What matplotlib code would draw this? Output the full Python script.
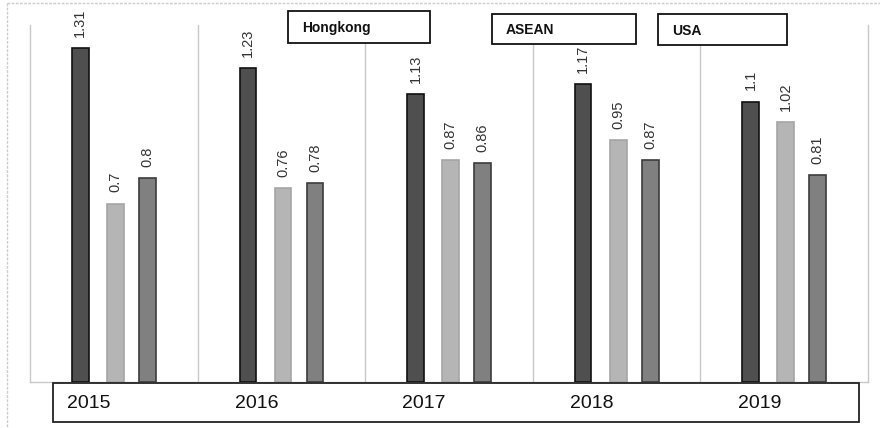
import numpy as np
import matplotlib.pyplot as plt
from matplotlib.patches import Rectangle

years = ['2015', '2016', '2017', '2018', '2019']
series = ['Hongkong', 'ASEAN', 'USA']
hongkong = [1.31, 1.23, 1.13, 1.17, 1.10]
asean = [0.70, 0.76, 0.87, 0.95, 1.02]
usa = [0.80, 0.78, 0.86, 0.87, 0.81]

W, H = 880, 428
fig = plt.figure(figsize=(W / 100, H / 100), dpi=100)
fig.patch.set_facecolor('white')

# main bar axes, placed in pixel terms
left, right, top, base = 30, 868, 25, 382
ax = fig.add_axes([left / W, (H - base) / H, (right - left) / W, (base - top) / H])

x = np.arange(len(years))
width = 0.10
styles = [
    (hongkong, -0.2, '#4f4f4f', '#111111'),
    (asean, 0.01, '#b5b5b5', '#a5a5a5'),
    (usa, 0.2, '#808080', '#3c3c3c'),
]
for vals, off, fc, ec in styles:
    bars = ax.bar(x + off, vals, width, color=fc, edgecolor=ec, linewidth=1.2, zorder=3)
    for b, v in zip(bars, vals):
        ax.annotate(f'{v:g}', (b.get_x() + b.get_width() / 2, v),
                    xytext=(0, 8), textcoords='offset points',
                    rotation=90, ha='center', va='bottom',
                    fontsize=10.5, color='#333333', family='Liberation Sans')

ax.set_xlim(-0.5, len(years) - 0.5)
ax.set_ylim(0, (base - top) / 255)
ax.set_xticks([])
ax.set_yticks([])
for xb in np.arange(0.5, len(years) - 0.5):
    ax.axvline(xb, color='#c8c8c8', lw=1.0, zorder=1)
ax.spines['top'].set_visible(False)
for side in ['left', 'right', 'bottom']:
    ax.spines[side].set_color('#c8c8c8')
    ax.spines[side].set_linewidth(1.0)

# overlay in pixel coordinates for the boxes and frame
ov = fig.add_axes([0, 0, 1, 1])
ov.set_xlim(0, W)
ov.set_ylim(H, 0)
ov.axis('off')
ov.patch.set_alpha(0)

ov.plot([7, 7], [3, H], color='#cccccc', lw=1.0, ls=(0, (2, 1)))
ov.plot([7, W], [3, 3], color='#cccccc', lw=1.0, ls=(0, (2, 1)))

# category label strip
ov.add_patch(Rectangle((53, 383), 806, 39, facecolor='white', edgecolor='#222222', lw=1.3, zorder=4))
cat_w = (right - left) / len(years)
for i, yr in enumerate(years):
    cx = left + cat_w * (i + 0.5) - 25
    ov.text(cx, 404, yr, ha='center', va='center', fontsize=14,
            family='Liberation Sans', color='#111111', zorder=5)

# series name boxes
legend_boxes = [(288, 11, 142, 32), (492, 14, 144, 30), (658, 14, 129, 31)]
for name, (bx, by, bw, bh) in zip(series, legend_boxes):
    ov.add_patch(Rectangle((bx, by), bw, bh, facecolor='white', edgecolor='#111111', lw=1.3, zorder=4))
    ov.text(bx + 14, by + bh / 2 + 1, name, ha='left', va='center', fontsize=10,
            fontweight='bold', family='Liberation Sans', color='#111111', zorder=5)

fig.savefig('out.png', dpi=100)
